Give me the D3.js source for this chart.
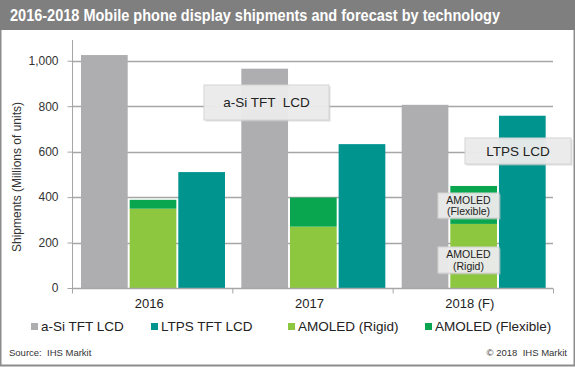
<!DOCTYPE html>
<html><head><meta charset="utf-8">
<script src="https://cdn.jsdelivr.net/npm/d3@7/dist/d3.min.js"></script>
<style>
body{margin:0;background:#fff;}
svg{display:block;font-family:Arial,"Liberation Sans",sans-serif;}
text{white-space:pre;}
</style></head><body>
<svg id="c" width="575" height="367"></svg>
<script>
const categories = ["2016", "2017", "2018 (F)"];
const asiValues = [1025, 965, 806];
const ltpsValues = [510, 633, 758];
const rigidValues = [349, 270, 282];
const flexibleValues = [39, 128, 167];
const yTicks = [0, 200, 400, 600, 800, 1000];
const legendLabels = ["a-Si TFT LCD", "LTPS TFT LCD", "AMOLED (Rigid)", "AMOLED (Flexible)"];
const colors = {asi: "#aeaeb0", ltps: "#00948f", rigid: "#8dc63f", flex: "#0aa64f"};

const svg = d3.select("#c");
// frame
svg.append("rect").attr("x", 0.5).attr("y", 0.5).attr("width", 574).attr("height", 365)
  .attr("fill", "#fff").attr("stroke", "#8c8c8c").attr("stroke-width", 2);
svg.append("rect").attr("x", 0).attr("y", 0).attr("width", 575).attr("height", 30).attr("fill", "#7f7f7f");
svg.append("text").attr("x", 10).attr("y", 21).attr("fill", "#fff").attr("font-weight", "bold")
  .attr("font-size", 16).attr("textLength", 490).attr("lengthAdjust", "spacingAndGlyphs")
  .text("2016-2018 Mobile phone display shipments and forecast by technology");

const y = d3.scaleLinear().domain([0, 1100]).range([288, 38]);
const x0 = d3.scaleBand().domain(categories).range([72, 553]);
const x1 = d3.scaleBand().domain(["asi", "amoled", "ltps"]).range([9, 153]).paddingInner(0.04);

// gridlines
svg.append("g").selectAll("line").data(yTicks.filter(d => d > 0)).join("line")
  .attr("x1", 72).attr("x2", 553).attr("y1", d => Math.round(y(d)) + 0.5).attr("y2", d => Math.round(y(d)) + 0.5)
  .attr("stroke", "#a6a6a6").attr("stroke-width", 1.3);

// y axis
const yAxis = svg.append("g").attr("transform", "translate(72.5,0)")
  .call(d3.axisLeft(y).tickValues(yTicks).tickSize(5).tickPadding(9).tickFormat(d3.format(",")));
yAxis.select(".domain").attr("stroke", "#a6a6a6").attr("d", "M0,40V288");
yAxis.selectAll(".tick line").attr("stroke", "#a6a6a6");
yAxis.selectAll(".tick text").attr("font-size", 12).attr("fill", "#333").attr("font-family", "Arial,'Liberation Sans',sans-serif");

// bars
const g = svg.append("g");
categories.forEach((c, i) => {
  const bx = x0(c);
  const bars = [
    {k: "asi", v0: 0, v1: asiValues[i], col: colors.asi},
    {k: "ltps", v0: 0, v1: ltpsValues[i], col: colors.ltps},
    {k: "amoled", v0: 0, v1: rigidValues[i], col: colors.rigid},
    {k: "amoled", v0: rigidValues[i], v1: rigidValues[i] + flexibleValues[i], col: colors.flex}
  ];
  g.selectAll(null).data(bars).join("rect")
    .attr("x", d => bx + x1(d.k)).attr("width", x1.bandwidth())
    .attr("y", d => y(d.v1)).attr("height", d => y(d.v0) - y(d.v1))
    .attr("fill", d => d.col);
});

// x axis
const xAxis = svg.append("g").attr("transform", "translate(0,288.5)");
xAxis.append("line").attr("x1", 72).attr("x2", 553).attr("stroke", "#a6a6a6").attr("stroke-width", 1.3);
const bounds = categories.map(c => x0(c)).concat([x0.range()[1]]);
xAxis.selectAll(".tk").data(bounds).join("line").attr("class", "tk")
  .attr("x1", d => d + 0.5).attr("x2", d => d + 0.5).attr("y1", 0).attr("y2", 5).attr("stroke", "#a6a6a6");
xAxis.selectAll("text").data(categories).join("text")
  .attr("x", d => x0(d) + x0.bandwidth() / 2 - 3).attr("y", 19).attr("text-anchor", "middle")
  .attr("font-size", 13).attr("fill", "#222").text(d => d);

// y label
svg.append("text").attr("transform", "translate(21,177) rotate(-90)").attr("text-anchor", "middle")
  .attr("font-size", 12).attr("fill", "#333").text("Shipments (Millions of units)");

// annotation boxes
function box(x, yy, w, h, lines, fs) {
  const gg = svg.append("g");
  gg.append("rect").attr("x", x + 1.5).attr("y", yy + 1.5).attr("width", w).attr("height", h).attr("fill", "#c8c8c8").attr("opacity", 0.6);
  gg.append("rect").attr("x", x).attr("y", yy).attr("width", w).attr("height", h)
    .attr("fill", "#ececec").attr("fill-opacity", 0.92).attr("stroke", "#d4d4d4");
  const lh = fs * 1.1;
  lines.forEach((t, j) => {
    gg.append("text").attr("x", x + w / 2).attr("y", yy + h / 2 + (j - (lines.length - 1) / 2) * lh + fs * 0.36)
      .attr("text-anchor", "middle").attr("font-size", fs).attr("fill", "#222").text(t);
  });
}
box(204, 85, 125, 35, ["a-Si TFT  LCD"], 13.5);
box(465, 138, 106, 26, ["LTPS LCD"], 13.5);
box(438, 193, 61, 25, ["AMOLED", "(Flexible)"], 10.5);
box(438, 247, 61, 26, ["AMOLED", "(Rigid)"], 10.5);

// legend
const legX = [31, 151, 288, 425];
const legCols = [colors.asi, colors.ltps, colors.rigid, colors.flex];
const lg = svg.append("g");
legendLabels.forEach((t, i) => {
  lg.append("rect").attr("x", legX[i]).attr("y", 323).attr("width", 7).attr("height", 7).attr("fill", legCols[i]);
  lg.append("text").attr("x", legX[i] + 10).attr("y", 331).attr("font-size", 13.5).attr("fill", "#222").text(t);
});

// footer
svg.append("text").attr("x", 9).attr("y", 356).attr("font-size", 9.5).attr("fill", "#333").text("Source:  IHS Markit");
svg.append("text").attr("x", 567).attr("y", 356).attr("text-anchor", "end").attr("font-size", 9.5).attr("fill", "#333").text("© 2018  IHS Markit");
</script>
</body></html>
